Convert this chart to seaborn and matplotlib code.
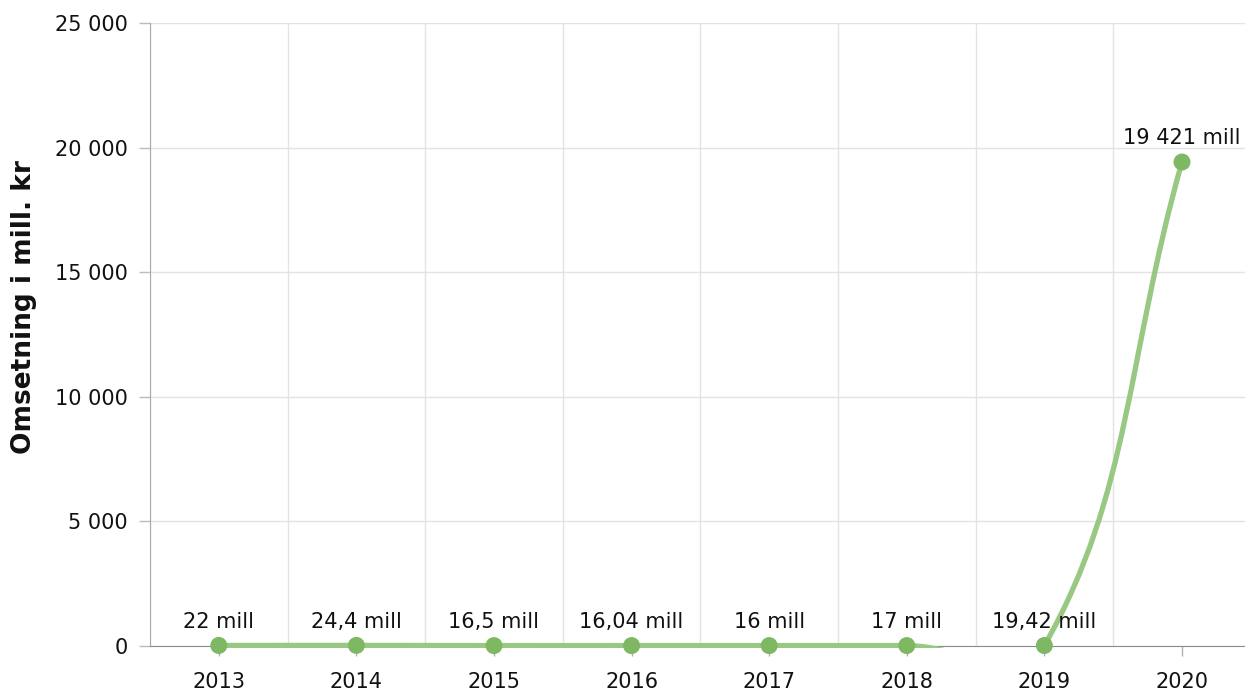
import numpy as np
import pandas as pd
import matplotlib
matplotlib.use("Agg")
import matplotlib.pyplot as plt
from matplotlib.path import Path
from matplotlib.patches import PathPatch, Rectangle
import seaborn as sns

years = ["2013", "2014", "2015", "2016", "2017", "2018", "2019", "2020"]
omsetning = [22, 24.4, 16.5, 16.04, 16, 17, 19.42, 19421]
labels = ["22 mill", "24,4 mill", "16,5 mill", "16,04 mill", "16 mill",
          "17 mill", "19,42 mill", "19 421 mill"]
yticks = [0, 5000, 10000, 15000, 20000, 25000]

df = pd.DataFrame({"x": np.arange(len(years)), "y": omsetning})

sns.set_style("white")
plt.rcParams["font.family"] = ["DejaVu Sans"]

line_col = "#98c882"
dot_col = "#7fb862"

fig = plt.figure(figsize=(12.45, 6.95), dpi=100)
ax = fig.add_axes([150 / 1245, 49 / 695, 1095 / 1245, 623 / 695])
ax.set_xlim(-0.5, 7 + 63 / 137.57)
ax.set_ylim(0, 25000)

# smooth line, tension 0.4, control points worked out in pixel space
pts = ax.transData.transform(df[["x", "y"]].to_numpy(float))
n = len(pts)
prev_cp = []
next_cp = []
for i in range(n):
    p0 = pts[max(i - 1, 0)]
    p1 = pts[i]
    p2 = pts[min(i + 1, n - 1)]
    d01 = np.hypot(*(p1 - p0))
    d12 = np.hypot(*(p2 - p1))
    tot = d01 + d12
    s01 = d01 / tot if tot else 0
    s12 = d12 / tot if tot else 0
    prev_cp.append(p1 - 0.4 * s01 * (p2 - p0))
    next_cp.append(p1 + 0.4 * s12 * (p2 - p0))

verts = [pts[0]]
codes = [Path.MOVETO]
for i in range(1, n):
    verts += [next_cp[i - 1], prev_cp[i], pts[i]]
    codes += [Path.CURVE4] * 3
verts = ax.transData.inverted().transform(np.array(verts))

curve = PathPatch(Path(verts, codes), fill=False, edgecolor=line_col, lw=3.8,
                  capstyle="round", joinstyle="round", zorder=3)
ax.add_patch(curve)
clip = Rectangle((0, -0.004), 1, 1.004, transform=ax.transAxes,
                 facecolor="none", edgecolor="none")
curve.set_clip_path(clip)

sns.scatterplot(data=df, x="x", y="y", ax=ax, color=dot_col, s=150,
                edgecolor="none", zorder=4, clip_on=False, legend=False)

for x, y, t in zip(df["x"], df["y"], labels):
    ax.annotate(t, (x, y), xytext=(0, 10), textcoords="offset points",
                ha="center", va="bottom", fontsize=15, color="#111111",
                zorder=5, annotation_clip=False)

ax.set_xticks(df["x"])
ax.set_xticklabels(years)
ax.set_xticks(np.arange(len(years)) - 0.5, minor=True)
ax.set_yticks(yticks)
ax.set_yticklabels([f"{v:,}".replace(",", " ") for v in yticks])
ax.tick_params(axis="x", which="major", length=7, width=1, color="#b0b0b0",
               labelsize=15, labelcolor="#111111", pad=12, direction="out", bottom=True)
ax.tick_params(axis="x", which="minor", length=0)
ax.tick_params(axis="y", length=8, width=1, color="#bbbbbb", labelsize=15,
               labelcolor="#111111", pad=8, direction="out", left=True)

ax.grid(False)
ax.grid(axis="y", which="major", color="#e3e3e3", lw=1)
ax.grid(axis="x", which="minor", color="#e3e3e3", lw=1)
ax.set_axisbelow(True)
sns.despine(ax=ax, top=True, right=True)
ax.spines["bottom"].set_color("#8c8c8c")
ax.spines["bottom"].set_zorder(2.5)
ax.spines["left"].set_color("#aaaaaa")
ax.set_xlabel("")
ax.set_ylabel("")

fig.text(24 / 1245, 1 - 307 / 695, "Omsetning i mill. kr", rotation=90,
         ha="center", va="center", fontsize=19, fontweight="bold", color="#111111")

fig.savefig("out.png", dpi=100)
